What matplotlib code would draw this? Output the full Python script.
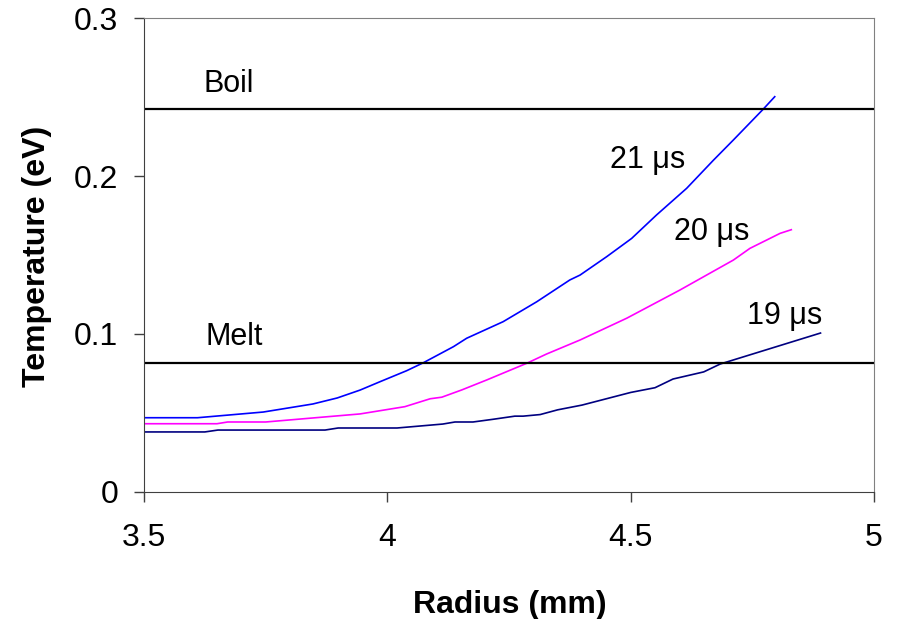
import matplotlib
matplotlib.use("Agg")
import matplotlib.pyplot as plt

plt.rcParams["font.family"] = ["Liberation Sans", "DejaVu Sans"]

# Data
r_21 = [3.50, 3.61, 3.745, 3.847, 3.897, 3.944, 3.985, 4.040, 4.074, 4.136, 4.163, 4.238,
        4.307, 4.375, 4.396, 4.451, 4.502, 4.553, 4.615, 4.670, 4.711, 4.772, 4.796]
t_21 = [0.047, 0.047, 0.0506, 0.0557, 0.0595, 0.0645, 0.0698, 0.0768, 0.0818, 0.092, 0.0973, 0.1078,
        0.1204, 0.1342, 0.1373, 0.149, 0.1605, 0.1753, 0.1922, 0.210, 0.2228, 0.2422, 0.2502]

r_20 = [3.50, 3.65, 3.672, 3.75, 3.944, 4.036, 4.088, 4.112, 4.153, 4.205, 4.286, 4.327,
        4.396, 4.492, 4.601, 4.711, 4.745, 4.807, 4.83]
t_20 = [0.0432, 0.0432, 0.0443, 0.0443, 0.0494, 0.054, 0.059, 0.060, 0.0646, 0.071, 0.0814, 0.0873,
        0.0962, 0.110, 0.1278, 0.1468, 0.1542, 0.1637, 0.166]

r_19 = [3.50, 3.625, 3.652, 3.872, 3.899, 4.02, 4.114, 4.139, 4.176, 4.217, 4.262, 4.279,
        4.314, 4.35, 4.40, 4.45, 4.50, 4.55, 4.587, 4.65, 4.684, 4.89]
t_19 = [0.038, 0.038, 0.0392, 0.0392, 0.0405, 0.0405, 0.043, 0.0443, 0.0443, 0.046, 0.048, 0.048,
        0.049, 0.052, 0.055, 0.059, 0.063, 0.066, 0.0715, 0.076, 0.081, 0.1006]

boil = 0.2424
melt = 0.0816

x_ticks = [3.5, 4, 4.5, 5]
x_tick_labels = ["3.5", "4", "4.5", "5"]
y_ticks = [0, 0.1, 0.2, 0.3]
y_tick_labels = ["0", "0.1", "0.2", "0.3"]

fig = plt.figure(figsize=(8.97, 6.19), dpi=100)
ax = fig.add_axes([0.1605, 0.2052, 0.8139, 0.7657])

ax.plot(r_21, t_21, color="#0000FF", lw=1.2)
ax.plot(r_20, t_20, color="#FF00FF", lw=1.2)
ax.plot(r_19, t_19, color="#000080", lw=1.2)

ax.axhline(boil, color="black", lw=1.6)
ax.axhline(melt, color="black", lw=1.6)

# curve and line labels
ax.text(3.675, 0.2534, "Boil", fontsize=22, ha="center", va="baseline")
ax.text(3.685, 0.0930, "Melt", fontsize=22, ha="center", va="baseline")
ax.text(4.535, 0.2049, "21 \u03bcs", fontsize=22, ha="center", va="baseline")
ax.text(4.667, 0.1595, "20 \u03bcs", fontsize=22, ha="center", va="baseline")
ax.text(4.816, 0.1063, "19 \u03bcs", fontsize=22, ha="center", va="baseline")

ax.set_xlim(3.5, 5)
ax.set_ylim(0, 0.3)
ax.set_xticks(x_ticks)
ax.set_xticklabels(x_tick_labels)
ax.set_yticks(y_ticks)
ax.set_yticklabels(y_tick_labels)
ax.tick_params(labelsize=23, direction="out", length=7.5, width=1, color="#404040")
ax.tick_params(axis="x", pad=15)
ax.tick_params(axis="y", pad=11)

for side in ["left", "bottom"]:
    ax.spines[side].set_color("#404040")
for side in ["top", "right"]:
    ax.spines[side].set_color("#808080")

# axis titles placed in figure coords to match the reference
fig.text(510 / 897, 1 - 613 / 619, "Radius (mm)", fontsize=23, fontweight="bold",
         ha="center", va="baseline")
fig.text(45 / 897, 1 - 256 / 619, "Temperature (eV)", fontsize=23, fontweight="bold",
         ha="center", va="baseline", rotation=90, rotation_mode="anchor")

fig.savefig("out.png", dpi=100)
